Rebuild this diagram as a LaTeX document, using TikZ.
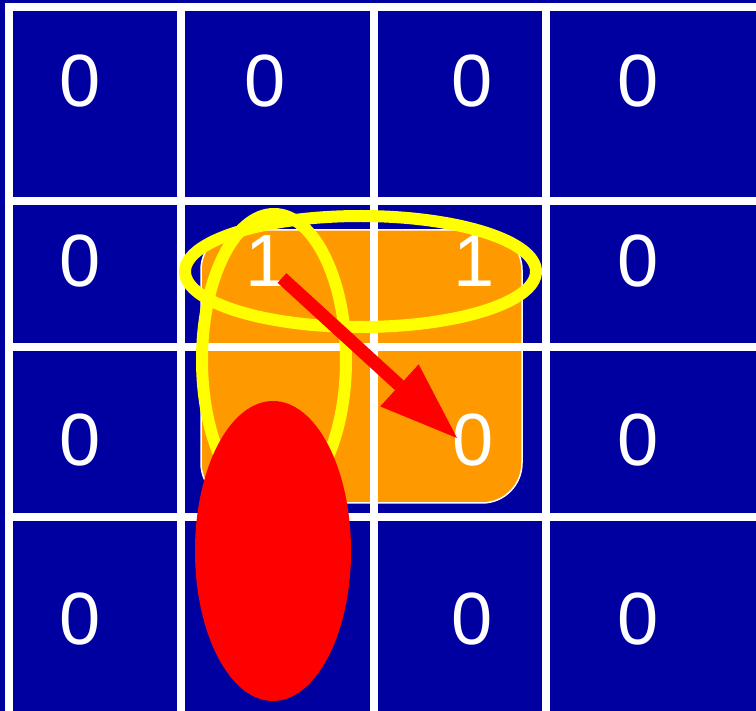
\documentclass[tikz,border=0pt]{standalone}
\usepackage{fontspec}
\setmainfont{Liberation Sans}
\usetikzlibrary{arrows.meta}
\definecolor{bgblue}{RGB}{0,0,160}
\definecolor{boxorange}{RGB}{255,153,0}
\definecolor{ringyellow}{RGB}{255,255,0}
\definecolor{hotred}{RGB}{255,0,0}
\tikzset{
  gridline/.style={draw=white, line width=8pt},
  digit/.style={text=white, inner sep=0pt, font=\fontsize{74}{74}\selectfont},
  ring/.style={draw=ringyellow, line width=12pt},
  hotarrow/.style={draw=hotred, line width=13pt, -{Triangle[length=78pt,width=57pt,line width=0pt]}},
}
\begin{document}
\begin{tikzpicture}[x=1pt,y=-1pt]
\useasboundingbox (0,0) rectangle (756,711);
\fill[bgblue] (0,0) rectangle (756,711);
% orange rounded box
\draw[fill=boxorange, draw=white, line width=1.5pt, rounded corners=40pt] (201,230) rectangle (522,503);
% grid
\draw[gridline] (9,3) -- (9,711);
\draw[gridline] (181,3) -- (181,711);
\draw[gridline] (374,3) -- (374,711);
\draw[gridline] (546,3) -- (546,711);
\draw[gridline] (5,7) -- (756,7);
\draw[gridline] (5,201) -- (756,201);
\draw[gridline] (5,347) -- (756,347);
\draw[gridline] (5,517) -- (756,517);
% digits
\node[digit] (r1c1) at (80,81) {0};
\node[digit] (r1c2) at (265,81) {0};
\node[digit] (r1c3) at (472,81) {0};
\node[digit] (r1c4) at (638,81) {0};
\node[digit] (r2c1) at (80,261) {0};
\node[digit] (r2c2) at (266,261) {1};
\node[digit] (r2c3) at (474,261) {1};
\node[digit] (r2c4) at (638,261) {0};
\node[digit] (r3c1) at (80,440) {0};
\node[digit] (r3c3) at (473,440) {0};
\node[digit] (r3c4) at (638,440) {0};
\node[digit] (r4c1) at (80,619) {0};
\node[digit] (r4c3) at (472,619) {0};
\node[digit] (r4c4) at (638,619) {0};
% yellow rings
\draw[ring] (360.5,271.5) ellipse (175.5pt and 55.5pt);
\draw[ring] (274,360) ellipse (72pt and 146pt);
% arrow
\coordinate (astart) at (282,278);
\coordinate (aend) at (457,438);
\draw[hotarrow] (astart) -- (aend);
% red ellipse
\fill[hotred] (273,551) ellipse (78pt and 150pt);
\end{tikzpicture}
\end{document}
